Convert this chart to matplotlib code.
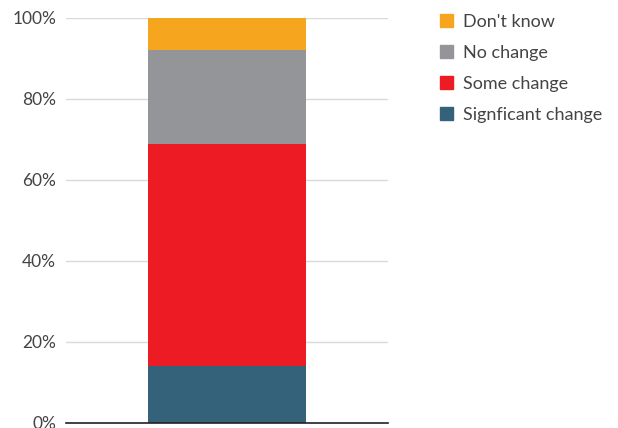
import matplotlib.pyplot as plt
from matplotlib.patches import Patch

plt.rcParams["font.family"] = ["Lato", "DejaVu Sans"]

# Datos (porcentajes)
categorias = ["Signficant change", "Some change", "No change", "Don't know"]
valores = [14, 55, 23, 8]
colores = ["#34627b", "#ed1c24", "#939598", "#f6a61e"]

fig = plt.figure(figsize=(6.18, 4.28), dpi=100)
ax = fig.add_axes([0.1068, 0.0117, 0.5212, 0.9463])

base = 0
for cat, val, col in zip(categorias, valores, colores):
    ax.bar(0, val, bottom=base, width=0.49, color=col, label=cat, zorder=3)
    base += val

ax.set_xlim(-0.5, 0.5)
ax.set_ylim(0, 100)
ax.set_yticks(range(0, 101, 20))
ax.set_yticklabels([f"{t}%" for t in range(0, 101, 20)], fontsize=12.5, color="#444444")
ax.set_xticks([])
ax.tick_params(axis="y", length=0, pad=7)

ax.grid(axis="y", color="#d9d9d9", linewidth=1, zorder=0)
for s in ["top", "right", "left"]:
    ax.spines[s].set_visible(False)
ax.spines["bottom"].set_color("#222222")
ax.spines["bottom"].set_linewidth(1.2)
ax.spines["bottom"].set_zorder(4)

handles = [Patch(color=c) for c in colores][::-1]
labels = categorias[::-1]
fig.legend(handles, labels, loc="upper left", bbox_to_anchor=(0.686, 1.006),
           frameon=False, fontsize=13, handlelength=0.72, handleheight=0.72,
           handletextpad=0.55, labelspacing=0.83, labelcolor="#444444")

plt.savefig("out.png", dpi=100)
